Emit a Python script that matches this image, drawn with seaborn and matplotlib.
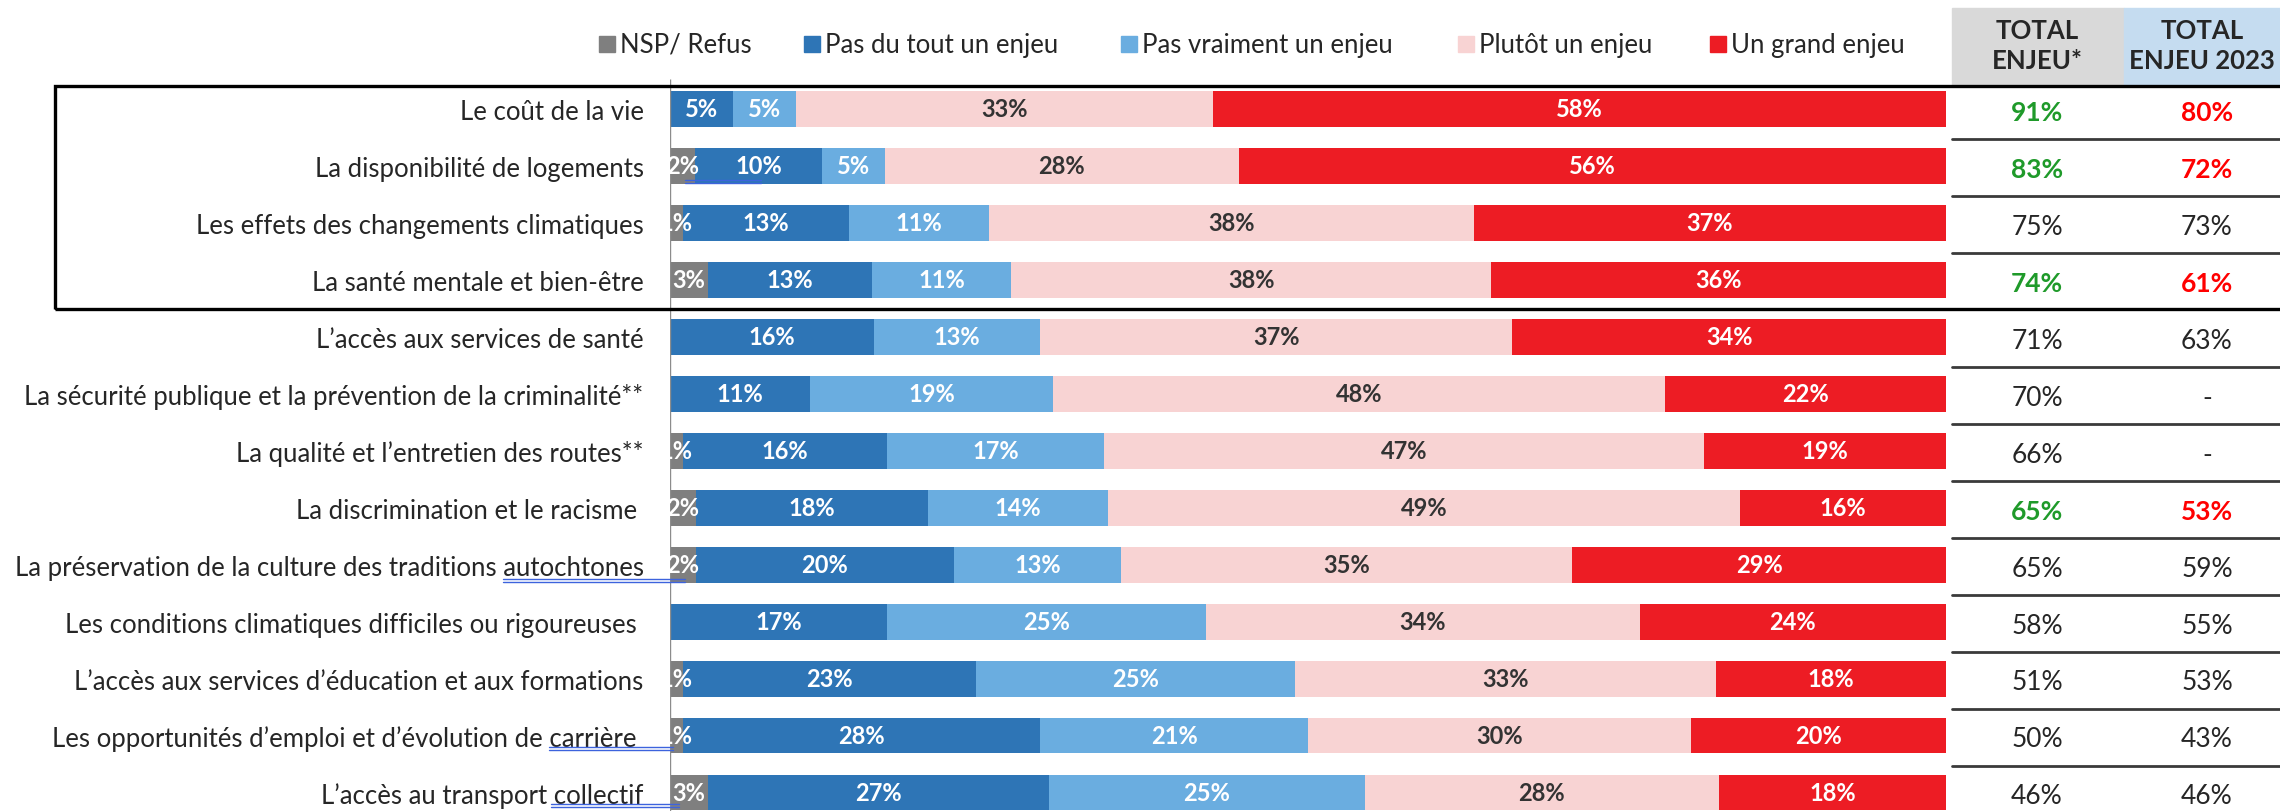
import numpy as np
import pandas as pd
import matplotlib.pyplot as plt
import matplotlib.transforms as mtransforms
from matplotlib.patches import Rectangle
from matplotlib.lines import Line2D
import seaborn as sns

# data
categories = [
    "Le coût de la vie",
    "La disponibilité de logements",
    "Les effets des changements climatiques",
    "La santé mentale et bien-être",
    "L\u2019accès aux services de santé",
    "La sécurité publique et la prévention de la criminalité**",
    "La qualité et l\u2019entretien des routes**",
    "La discrimination et le racisme ",
    "La préservation de la culture des traditions autochtones",
    "Les conditions climatiques difficiles ou rigoureuses ",
    "L\u2019accès aux services d\u2019éducation et aux formations",
    "Les opportunités d\u2019emploi et d\u2019évolution de carrière ",
    "L\u2019accès au transport collectif",
]
nsp = [0, 2, 1, 3, 0, 0, 1, 2, 2, 0, 1, 1, 3]
pas_du_tout = [5, 10, 13, 13, 16, 11, 16, 18, 20, 17, 23, 28, 27]
pas_vraiment = [5, 5, 11, 11, 13, 19, 17, 14, 13, 25, 25, 21, 25]
plutot = [33, 28, 38, 38, 37, 48, 47, 49, 35, 34, 33, 30, 28]
grand = [58, 56, 37, 36, 34, 22, 19, 16, 29, 24, 18, 20, 18]

total_enjeu = ["91%", "83%", "75%", "74%", "71%", "70%", "66%", "65%", "65%", "58%", "51%", "50%", "46%"]
total_2023 = ["80%", "72%", "73%", "61%", "63%", "-", "-", "53%", "59%", "55%", "53%", "43%", "46%"]
highlight = [True, True, False, True, False, False, False, True, False, False, False, False, False]

series = ["NSP/ Refus", "Pas du tout un enjeu", "Pas vraiment un enjeu", "Plutôt un enjeu", "Un grand enjeu"]
colors = ["#7f7f7f", "#2e75b6", "#6aade0", "#f8d3d3", "#ed1c24"]
text_colors = ["white", "white", "white", "#333333", "white"]

df = pd.DataFrame(dict(zip(series, [nsp, pas_du_tout, pas_vraiment, plutot, grand])), index=categories)
share = df.div(df.sum(axis=1), axis=0) * 100
cum = share.cumsum(axis=1)

sns.set_theme(style="white")
plt.rcParams["font.family"] = ["Lato", "DejaVu Sans"]

W, H = 2280, 812
fig = plt.figure(figsize=(W / 100, H / 100), dpi=100)
ax = fig.add_axes([670 / W, 0, 1276 / W, 1])

# stacked bars: cumulative totals drawn from the longest to the shortest
for name, col in reversed(list(zip(series, colors))):
    sns.barplot(x=cum[name].values, y=categories, color=col, orient="h", width=0.63,
                saturation=1, errorbar=None, ax=ax, linewidth=0)

ax.set_xlim(0, 100)
ax.set_ylim(12.325, -1.931)
ax.set_xticks([])
ax.set_xlabel("")
ax.set_ylabel("")
for s in ax.spines.values():
    s.set_visible(False)
ax.tick_params(axis="y", length=0, pad=19, labelsize=18.5, labelcolor="#262626")
ax.vlines(0, -0.52, 12.4, color="#8c8c8c", lw=1)

# segment labels
for i in range(len(categories)):
    for k, name in enumerate(series):
        v = df.iloc[i][name]
        if v == 0:
            continue
        mid = cum.iloc[i][name] - share.iloc[i][name] / 2
        ax.text(mid, i, f"{v}%", ha="center", va="center", color=text_colors[k],
                fontsize=17, fontweight="bold")

# right-hand table
trans = mtransforms.blended_transform_factory(fig.transFigure, ax.transData)
ftrans = fig.transFigure
fig.patches.append(Rectangle((1952 / W, 1 - 86 / H), 172 / W, 77 / H, transform=ftrans,
                             color="#d9d9d9", zorder=0))
fig.patches.append(Rectangle((2124 / W, 1 - 86 / H), 170 / W, 77 / H, transform=ftrans,
                             color="#c5dcf0", zorder=0))
fig.text(2037 / W, 1 - 46 / H, "TOTAL\nENJEU*", ha="center", va="center", fontsize=18.5,
         fontweight="bold", color="#262626", linespacing=1.3)
fig.text(2202 / W, 1 - 46 / H, "TOTAL\nENJEU 2023", ha="center", va="center", fontsize=18.5,
         fontweight="bold", color="#262626", linespacing=1.3)

for i in range(len(categories)):
    if highlight[i]:
        c1, c2, fw = "#1f9a2a", "#ff0000", "bold"
    else:
        c1, c2, fw = "#262626", "#262626", "normal"
    fig.text(2037 / W, i + 0.06, total_enjeu[i], transform=trans, ha="center", va="center",
             fontsize=19, color=c1, fontweight=fw)
    fig.text(2207 / W, i + 0.06, total_2023[i], transform=trans, ha="center", va="center",
             fontsize=19, color=c2, fontweight=fw)
    if i != 3 and i < len(categories) - 1:
        fig.lines.append(Line2D([1952 / W, 1.0], [i + 0.53, i + 0.53], transform=trans,
                                color="#3a3a3a", lw=2))

# box around the first four rows
fig.patches.append(Rectangle((55 / W, 1 - 310 / H), 2300 / W, 223 / H, transform=ftrans,
                             fill=False, ec="black", lw=2.4, zorder=5))

# legend across the top
leg_x = [599, 804, 1121, 1458, 1710]
for x, name, col in zip(leg_x, series, colors):
    fig.patches.append(Rectangle((x / W, 1 - 53 / H), 16 / W, 16 / H, transform=ftrans,
                                 color=col))
    fig.text((x + 21) / W, 1 - 45 / H, name, ha="left", va="center", fontsize=18.5,
             color="#262626")

# spell-check style underlines visible in the source screenshot
for x0, x1, y in [(503, 685, 580), (549, 673, 748), (551, 679, 805), (685, 761, 181)]:
    for dy in (0, 3):
        fig.lines.append(Line2D([x0 / W, x1 / W], [1 - (y + dy) / H] * 2, transform=ftrans,
                                color="#3d63dd", lw=1))

fig.savefig("out.png", dpi=100)
